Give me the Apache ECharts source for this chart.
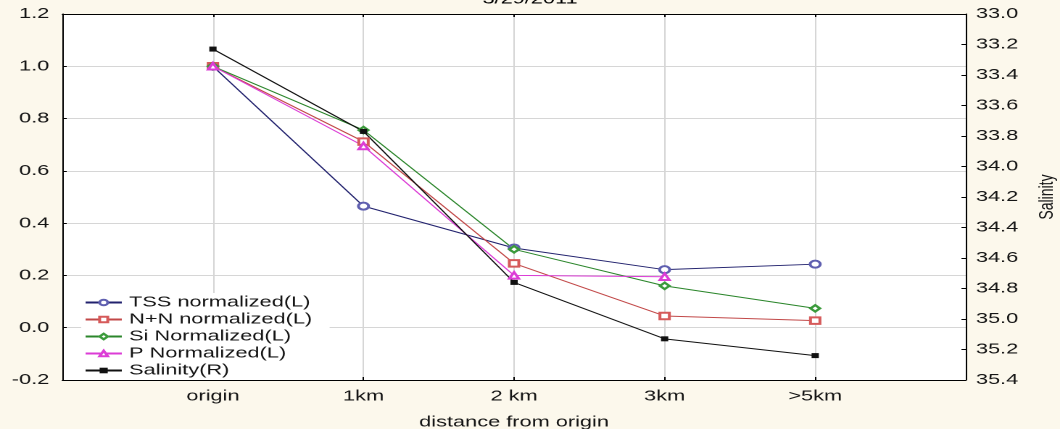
<!DOCTYPE html>
<html>
<head>
<meta charset="utf-8">
<script src="https://cdn.jsdelivr.net/npm/echarts@6/dist/echarts.min.js"></script>
<style>
  html, body { margin: 0; padding: 0; background: #fcf8ec; overflow: hidden; }
  /* chart is laid out narrow and widened horizontally */
  #chart { width: 731px; height: 429px; transform: scaleX(1.4501); transform-origin: 0 0; }
</style>
</head>
<body>
<div id="chart"></div>
<script>
// Stations along the transect
const categories = ['origin', '1km', '2 km', '3km', '>5km'];

// Normalized concentrations (left axis)
const tss = [1.0, 0.465, 0.305, 0.222, 0.243];
const nn  = [1.0, 0.712, 0.246, 0.045, 0.027];
const si  = [1.0, 0.756, 0.300, 0.160, 0.074];
const p   = [1.0, 0.695, 0.200, 0.195, null];

// Salinity (right axis, inverted)
const salinity = [33.23, 33.77, 34.76, 35.13, 35.24];

const leftTicks = { min: -0.2, max: 1.2, step: 0.2 };
const rightTicks = { min: 33.0, max: 35.4, step: 0.2 };

// one empty slot on each side keeps the stations off the frame
const xCats = [''].concat(categories, ['']);
const padded = arr => [null].concat(arr, [null]);

const FONT = 'Liberation Sans, Arial, sans-serif';
const chart = echarts.init(document.getElementById('chart'), null, { renderer: 'canvas', devicePixelRatio: 2 });

const axisText = { color: '#151515', fontSize: 15, fontFamily: FONT };

chart.setOption({
  backgroundColor: '#fcf8ec',
  animation: false,
  title: {
    text: '3/29/2011', left: 'center', top: -13,
    textStyle: { fontSize: 15, fontWeight: 'normal', color: '#000', fontFamily: FONT }
  },
  grid: {
    left: 43, right: 65, top: 14, bottom: 49,
    outerBoundsMode: 'none', containLabel: false,
    show: true, backgroundColor: '#ffffff', borderWidth: 0
  },
  legend: {
    orient: 'vertical', left: 56, top: 293,
    itemWidth: 25, itemHeight: 7, itemGap: 2,
    padding: [2, 12, 2, 2],
    backgroundColor: '#ffffff',
    textStyle: { color: '#151515', fontSize: 15, fontFamily: FONT },
    data: ['TSS normalized(L)', 'N+N normalized(L)', 'Si Normalized(L)', 'P Normalized(L)', 'Salinity(R)']
  },
  xAxis: [
    {
      type: 'category', data: xCats, boundaryGap: false, position: 'bottom',
      name: 'distance from origin', nameLocation: 'middle', nameGap: 35,
      nameTextStyle: axisText,
      axisLine: { show: true, onZero: false, lineStyle: { color: '#000', width: 1 } },
      axisTick: { show: true, inside: true, length: 3, interval: 0, lineStyle: { color: '#000' } },
      axisLabel: Object.assign({ interval: 0, margin: 9 }, axisText),
      splitLine: { show: true, interval: 0, showMinLine: false, showMaxLine: false, lineStyle: { color: '#d6d6d6', width: 1 } }
    },
    {
      type: 'category', data: xCats, boundaryGap: false, position: 'top',
      axisLine: { show: true, onZero: false, lineStyle: { color: '#000', width: 1 } },
      axisTick: { show: true, inside: true, length: 3, interval: 0, lineStyle: { color: '#000' } },
      axisLabel: { show: false },
      splitLine: { show: false }
    }
  ],
  yAxis: [
    {
      type: 'value', position: 'left',
      min: leftTicks.min, max: leftTicks.max, interval: leftTicks.step,
      axisLine: { show: true, onZero: false, lineStyle: { color: '#000', width: 1 } },
      axisTick: { show: true, inside: true, length: 3, lineStyle: { color: '#000' } },
      axisLabel: Object.assign({ margin: 9, formatter: v => v.toFixed(1) }, axisText),
      splitLine: { show: true, showMinLine: false, showMaxLine: false, lineStyle: { color: '#d6d6d6', width: 1 } }
    },
    {
      type: 'value', position: 'right', inverse: true,
      min: rightTicks.min, max: rightTicks.max, interval: rightTicks.step,
      name: 'Salinity', nameLocation: 'middle', nameGap: 49, nameRotate: 90,
      nameTextStyle: { color: '#151515', fontSize: 14, fontFamily: FONT },
      axisLine: { show: true, onZero: false, lineStyle: { color: '#000', width: 1 } },
      axisTick: { show: true, inside: true, length: 3, lineStyle: { color: '#000' } },
      axisLabel: Object.assign({ margin: 7, formatter: v => v.toFixed(1) }, axisText),
      splitLine: { show: false }
    }
  ],
  series: [
    {
      name: 'TSS normalized(L)', type: 'line', data: padded(tss), yAxisIndex: 0,
      symbol: 'emptyCircle', symbolSize: 7,
      lineStyle: { color: '#22226e', width: 1 },
      itemStyle: { color: '#5f5fb0', borderWidth: 1 }
    },
    {
      name: 'N+N normalized(L)', type: 'line', data: padded(nn), yAxisIndex: 0,
      symbol: 'emptyRect', symbolSize: 6.5,
      lineStyle: { color: '#c24848', width: 1 },
      itemStyle: { color: '#d65a5a', borderWidth: 1 }
    },
    {
      name: 'Si Normalized(L)', type: 'line', data: padded(si), yAxisIndex: 0,
      symbol: 'emptyDiamond', symbolSize: 6.5,
      lineStyle: { color: '#2b862b', width: 1 },
      itemStyle: { color: '#3a9a3a', borderWidth: 1 }
    },
    {
      name: 'P Normalized(L)', type: 'line', data: padded(p), yAxisIndex: 0,
      symbol: 'emptyTriangle', symbolSize: 6.5,
      lineStyle: { color: '#dc3cd6', width: 1 },
      itemStyle: { color: '#dc3cd6', borderWidth: 1 }
    },
    {
      name: 'Salinity(R)', type: 'line', data: padded(salinity), yAxisIndex: 1,
      symbol: 'rect', symbolSize: 5,
      lineStyle: { color: '#111', width: 1 },
      itemStyle: { color: '#111' }
    }
  ]
});
</script>
</body>
</html>
